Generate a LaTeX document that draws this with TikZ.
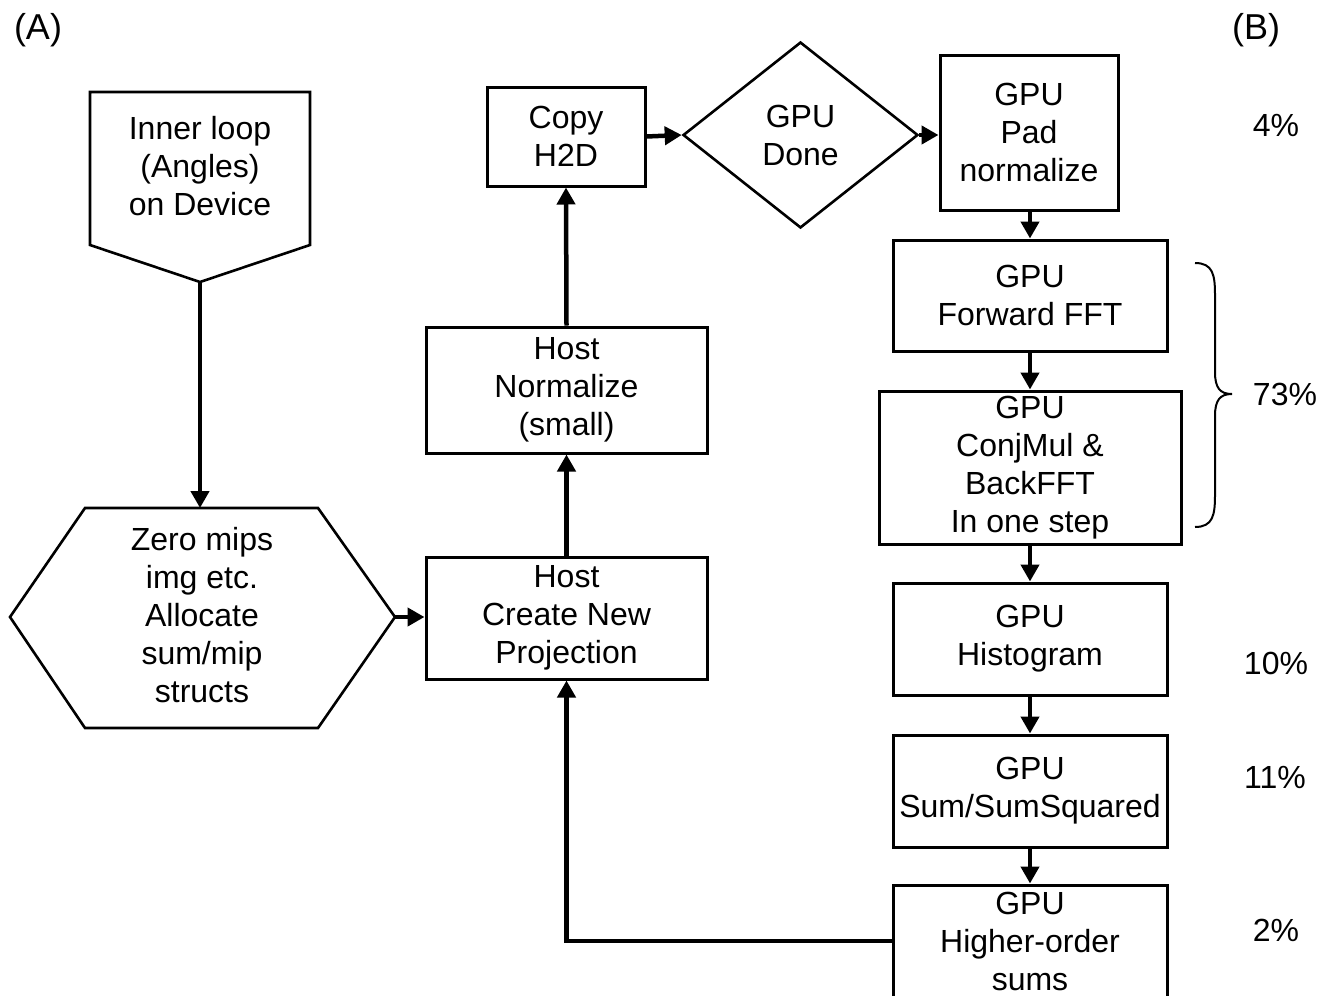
\documentclass[tikz,border=0pt]{standalone}
\usepackage{fontspec}
\setmainfont{Liberation Sans}
\usetikzlibrary{shapes.geometric,arrows.meta}

\tikzset{
  every node/.style={font=\fontsize{32}{38}\selectfont, align=center, inner sep=0pt},
  box/.style={draw, line width=3pt, rectangle},
  flow/.style={line width=4.5pt, -{Triangle[length=17pt,width=18pt]}},
  outline/.style={line width=2.6pt, line join=miter},
  panel/.style={font=\fontsize{36}{40}\selectfont},
}

\begin{document}
\begin{tikzpicture}[x=1pt, y=-1pt]
  \useasboundingbox (0,0) rectangle (1320,996);

  % panel labels
  \node[panel] (labA) at (38,30) {(A)};
  \node[panel] (labB) at (1256,30) {(B)};

  % loop entry (pentagon pointing down)
  \draw[outline] (90,92) -- (310,92) -- (310,245) -- (200,282) -- (90,245) -- cycle;
  \node (inner) at (200,166) {Inner loop\\(Angles)\\on Device};
  \coordinate (innertip) at (200,282);

  % preparation (hexagon)
  \draw[outline] (85,508) -- (318,508) -- (395,617) -- (318,728) -- (85,728) -- (10,617) -- cycle;
  \node (zero) at (202,615) {Zero mips\\img etc.\\Allocate\\sum/mip\\structs};
  \coordinate (zerotop) at (200,508);
  \coordinate (zeroright) at (395,617);

  % host side
  \node[box, minimum width=281pt, minimum height=122pt] (create) at (566.5,618) {Host\\Create New\\Projection};
  \node[box, minimum width=281pt, minimum height=126pt] (norm) at (566.5,390) {Host\\Normalize\\(small)};
  \node[box, minimum width=158pt, minimum height=99pt] (copy) at (566,136.5) {Copy\\H2D};

  % device side
  \node[draw, diamond, outline, minimum width=235pt, minimum height=186pt] (done) at (800.5,135) {GPU\\Done};
  \node[box, minimum width=178pt, minimum height=155pt] (pad) at (1029,132.5) {GPU\\Pad\\normalize};
  \node[box, minimum width=274pt, minimum height=111pt] (fwd) at (1030,295.5) {GPU\\Forward FFT};
  \node[box, minimum width=302pt, minimum height=153pt] (conj) at (1030,467.5) {GPU\\ConjMul \&\\BackFFT\\In one step};
  \node[box, minimum width=274pt, minimum height=112pt] (hist) at (1030,639) {GPU\\Histogram};
  \node[box, minimum width=274pt, minimum height=112pt] (sum) at (1030,791) {GPU\\Sum/SumSquared};
  \node[box, minimum width=274pt, minimum height=112pt] (high) at (1030,941) {GPU\\Higher-order\\sums};

  % timing shares
  \node (p4) at (1276,125) {4\%};
  \node (p73) at (1285,394) {73\%};
  \node (p10) at (1276,663) {10\%};
  \node (p11) at (1275,777) {11\%};
  \node (p2) at (1276,930) {2\%};

  % brace grouping the two FFT steps
  \draw[line width=2pt] (1195,263) .. controls (1213,263) and (1215,275) .. (1215,295)
    -- (1215,372) .. controls (1215,388) and (1220,394) .. (1232,394)
    .. controls (1220,394) and (1215,400) .. (1215,416)
    -- (1215,495) .. controls (1215,515) and (1213,527) .. (1195,527);

  % connectors
  \draw[flow] (innertip) -- (zerotop);
  \draw[flow] (zeroright) -- (zeroright -| create.west);
  \draw[flow] (create.north) -- (norm.south);
  \draw[flow] (norm.north) -- (copy.south);
  \draw[flow] (copy.east) -- (done.west);
  \draw[flow] (done.east) -- (done.east -| pad.west);
  \draw[flow] (pad.south -| fwd.north) -- (fwd.north);
  \draw[flow] (fwd.south) -- (conj.north);
  \draw[flow] (conj.south) -- (hist.north);
  \draw[flow] (hist.south) -- (sum.north);
  \draw[flow] (sum.south) -- (high.north);
  \draw[flow] (high.west) -- (high.west -| create.south) -- (create.south);
\end{tikzpicture}
\end{document}
